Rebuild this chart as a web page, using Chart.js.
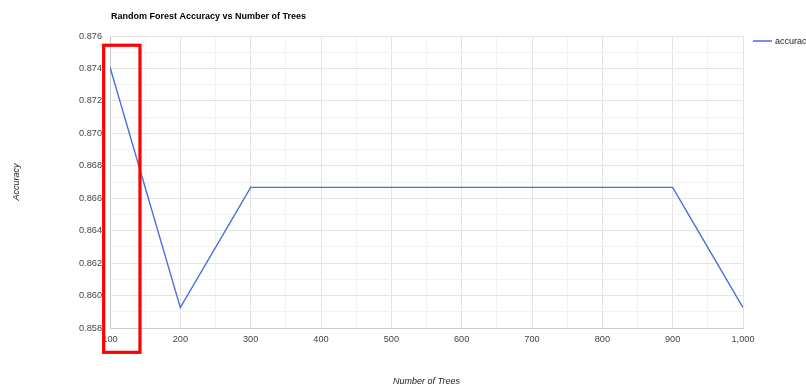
<!DOCTYPE html>
<html>
<head>
<meta charset="utf-8">
<script src="https://cdn.jsdelivr.net/npm/chart.js@4/dist/chart.umd.min.js"></script>
<style>
  html, body { margin: 0; padding: 0; background: #ffffff; }
  #wrap { width: 806px; height: 385px; }
</style>
</head>
<body>
<div id="wrap"><canvas id="c" width="806" height="385"></canvas></div>
<script>
// Number of trees in the forest and the resulting accuracy
const treeCounts = [100, 200, 300, 400, 500, 600, 700, 800, 900, 1000];
const accuracy = [0.874074, 0.859259, 0.866667, 0.866667, 0.866667, 0.866667, 0.866667, 0.866667, 0.866667, 0.859259];
const seriesName = 'accuracy';
const chartTitle = 'Random Forest Accuracy vs Number of Trees';
const xTitle = 'Number of Trees';
const yTitle = 'Accuracy';
// Highlighted range (trees, accuracy)
const highlightX = [91.0, 142.6];
const highlightY = [0.87543, 0.8565];

const FONT = '"Liberation Sans", Arial, sans-serif';

const decorations = {
  id: 'decorations',
  afterDraw(chart) {
    const ctx = chart.ctx;
    const area = chart.chartArea;
    const xs = chart.scales.x, ys = chart.scales.y;
    ctx.save();
    // title
    ctx.fillStyle = '#000';
    ctx.font = 'bold 9px ' + FONT;
    ctx.textAlign = 'left';
    ctx.textBaseline = 'middle';
    ctx.fillText(chartTitle, area.left + 1, 16.5);
    // legend
    ctx.strokeStyle = chart.data.datasets[0].borderColor;
    ctx.lineWidth = 1.5;
    ctx.beginPath();
    ctx.moveTo(area.right + 10, 41);
    ctx.lineTo(area.right + 29, 41);
    ctx.stroke();
    ctx.fillStyle = '#222';
    ctx.font = '9px ' + FONT;
    ctx.fillText(seriesName, area.right + 32, 41.5);
    // axis titles
    ctx.fillStyle = '#222';
    ctx.font = 'italic 9px ' + FONT;
    ctx.textAlign = 'center';
    ctx.fillText(xTitle, (area.left + area.right) / 2, 381.5);
    ctx.translate(16.5, (area.top + area.bottom) / 2);
    ctx.rotate(-Math.PI / 2);
    ctx.fillText(yTitle, 0, 0);
    ctx.restore();
    // highlight box
    ctx.save();
    ctx.strokeStyle = '#ff0000';
    ctx.lineWidth = 3.2;
    const x0 = xs.getPixelForValue(highlightX[0]);
    const x1 = xs.getPixelForValue(highlightX[1]);
    const y0 = ys.getPixelForValue(highlightY[0]);
    const y1 = ys.getPixelForValue(highlightY[1]);
    ctx.strokeRect(x0, y0, x1 - x0, y1 - y0);
    ctx.restore();
  }
};

new Chart(document.getElementById('c'), {
  type: 'line',
  data: {
    labels: treeCounts,
    datasets: [{
      label: seriesName,
      data: treeCounts.map((t, i) => ({ x: t, y: accuracy[i] })),
      borderColor: '#4470db',
      borderWidth: 1.4,
      pointRadius: 0,
      tension: 0,
      fill: false
    }]
  },
  options: {
    responsive: false,
    animation: false,
    layout: { padding: { top: 36, right: 63, left: 0, bottom: 0 } },
    plugins: { legend: { display: false }, title: { display: false }, tooltip: { enabled: false } },
    scales: {
      x: {
        type: 'linear',
        min: 100, max: 1000,
        afterFit(s) { s.height = 57; },
        border: { color: '#cccccc', width: 1 },
        grid: {
          drawTicks: false,
          color: c => (Math.round(c.tick.value) % 100 === 0 ? '#e4e4e4' : '#f3f3f3')
        },
        ticks: {
          stepSize: 50,
          autoSkip: false,
          maxRotation: 0,
          padding: 6,
          color: '#444',
          font: { family: FONT, size: 9.2 },
          callback: v => (Math.round(v) % 100 === 0 ? Math.round(v).toLocaleString('en-US') : '')
        }
      },
      y: {
        min: 0.858, max: 0.876,
        afterFit(s) { s.width = 110; },
        border: { color: '#cccccc', width: 1 },
        grid: {
          drawTicks: false,
          color: c => (Math.round(c.tick.value * 1000) % 2 === 0 ? '#e4e4e4' : '#f3f3f3')
        },
        ticks: {
          stepSize: 0.001,
          autoSkip: false,
          padding: 8,
          color: '#444',
          font: { family: FONT, size: 9.2 },
          callback: v => (Math.round(v * 1000) % 2 === 0 ? v.toFixed(3) : '')
        }
      }
    }
  },
  plugins: [decorations]
});
</script>
</body>
</html>
